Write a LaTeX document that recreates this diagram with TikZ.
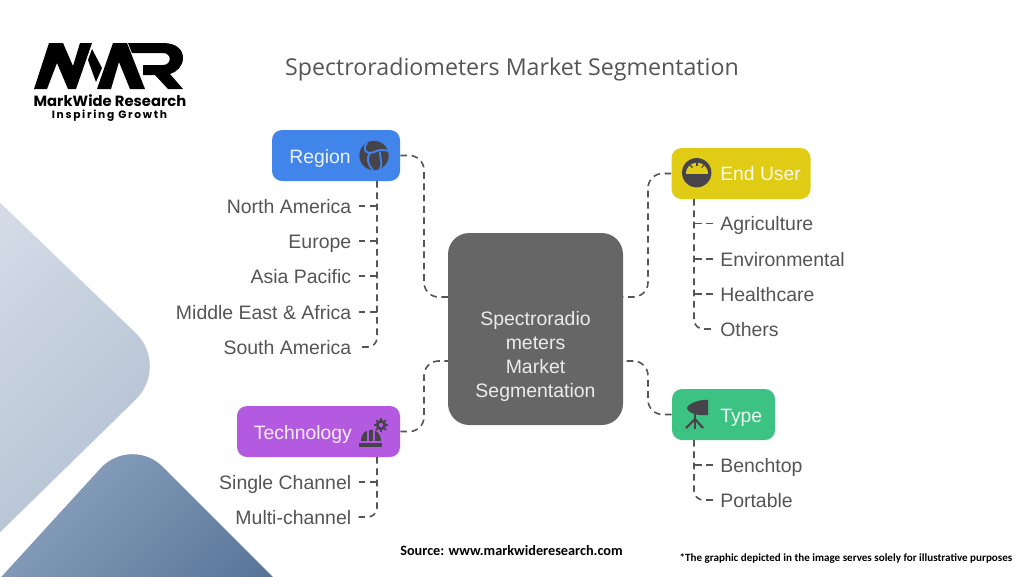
\documentclass[tikz,border=0pt]{standalone}
\usepackage{fontspec}
\setmainfont{Liberation Sans}
\newfontfamily\titlefont{Open Sans}
\newfontfamily\logofont{Poppins}
\newfontfamily\slogfont[LetterSpace=16]{Poppins}
\newfontfamily\notefont{Carlito}
\definecolor{inkgray}{HTML}{555555}
\definecolor{icongray}{HTML}{46444A}
\definecolor{regionblue}{HTML}{4285EA}
\definecolor{useryellow}{HTML}{E0CB15}
\definecolor{techpurple}{HTML}{B45AE0}
\definecolor{typegreen}{HTML}{3CC384}
\definecolor{paleone}{HTML}{D6DEE8}
\definecolor{paletwo}{HTML}{B0BED0}
\definecolor{deepone}{HTML}{92A8C4}
\definecolor{deeptwo}{HTML}{506E92}
\tikzset{
	catbox/.style={fill=#1,rounded corners=7.5pt,minimum height=38.25pt,inner sep=0pt},
	cattext/.style={text=white!90!#1,font=\fontsize{14.5}{18}\selectfont,inner sep=0pt,text height=10.5pt,text depth=0pt},
	leafl/.style={anchor=east,text=inkgray,font=\fontsize{14.6}{18}\selectfont,inner xsep=5.25pt,inner ysep=0pt,text height=10.5pt,text depth=0pt},
	leafr/.style={anchor=west,text=inkgray,font=\fontsize{14.6}{18}\selectfont,inner xsep=5.25pt,inner ysep=0pt,text height=10.5pt,text depth=0pt},
	dashline/.style={draw=inkgray,line width=1.2pt,dash pattern=on 5pt off 3.5pt},
}
\begin{document}
\begin{tikzpicture}[x=0.75pt,y=-0.75pt]
	\useasboundingbox (0,0) rectangle (1024,576);
	\fill[white] (0,0) rectangle (1024,576);

	\begin{scope}
		\clip (0,0) rectangle (1024,576);
		\shade[left color=paleone,right color=paletwo,shading angle=45,rounded corners=36pt] (-60,145)--(170,366)--(-60,591)--cycle; %light
		\shade[left color=deepone,right color=deeptwo,shading angle=45,rounded corners=34pt] (131,435)--(340,644)--(-60,644)--cycle; %dark
	\end{scope}

	%logo
	\fill[black] (34,89)--(49,43)--(63,43)--(73,66)--(80,43)--(92,43)--(76,89)--(68,89)--(57,63)--(47,89)--cycle;
	\fill[black] (92,49)--(102,68)--(96,82)--(88,60)--cycle;
	\fill[black] (97,89)--(113,43)--(127,43)--(145,89)--(130,89)--(119,62)--(111,89)--cycle;
	\fill[black] (128,43)--(163,43) .. controls (177,43) and (183,50) .. (183,58) .. controls (183,66) and (177,72) .. (170,74)--(183,89)--(168,89)--(155,75)--(143,75)--(143,65)--(163,65) .. controls (172,65) and (172,53) .. (163,53)--(132,53)--cycle;
	\node[inner sep=0pt,font=\logofont\bfseries\fontsize{11.1}{12}\selectfont] (brand) at (110,101) {MarkWide Research};
	\node[inner sep=0pt,font=\slogfont\bfseries\fontsize{8}{10}\selectfont] (slogan) at (109.5,115.5) {Inspiring Growth};

	\node[inner sep=0pt,text=inkgray,font=\titlefont\fontsize{17.4}{22}\selectfont] (title) at (512,69.5) {Spectroradiometers Market Segmentation};

	%center
	\node[fill=black!60,rounded corners=16pt,minimum width=131.25pt,minimum height=144pt,inner sep=0pt] (center) at (535.5,329) {};
	\node[inner sep=0pt,text=white!92!black,align=center,font=\fontsize{14.6}{17.8}\selectfont] (centertext) at (535.5,356.5) {Spectroradio\\meters\\Market\\Segmentation};
	\coordinate (centerlu) at (448,297);
	\coordinate (centerld) at (448,361);
	\coordinate (centerru) at (623,297);
	\coordinate (centerrd) at (623,361);
	\coordinate (busl) at (424,329);
	\coordinate (busr) at (648,329);

	%boxes
	\node[catbox=regionblue,minimum width=96pt] (region) at (336,155.5) {};
	\node[catbox=useryellow,minimum width=104.25pt] (enduser) at (741,173.5) {};
	\node[catbox=techpurple,minimum width=122.25pt] (technology) at (318.5,431.5) {};
	\node[catbox=typegreen,minimum width=77.25pt] (type) at (723.5,414.5) {};
	\node[cattext=regionblue,anchor=east] (regiontext) at (351,156) {Region};
	\node[cattext=useryellow,anchor=west] (endusertext) at (720,173.5) {End User};
	\node[cattext=techpurple,anchor=east] (technologytext) at (352,432) {Technology};
	\node[cattext=typegreen,anchor=west] (typetext) at (720,415) {Type};

	%leaves
	\node[leafl] (northamerica) at (358.5,206) {North America};
	\node[leafl] (europe) at (358.5,241) {Europe};
	\node[leafl] (asiapacific) at (358.5,276) {Asia Pacific};
	\node[leafl] (mea) at (358.5,312) {Middle East \& Africa};
	\node[leafl] (southamerica) at (358.5,347) {South America};
	\node[leafl] (single) at (358.5,482) {Single Channel};
	\node[leafl] (multi) at (358.5,517) {Multi-channel};
	\node[leafr] (agriculture) at (713,223.5) {Agriculture};
	\node[leafr] (environmental) at (713,259) {Environmental};
	\node[leafr] (healthcare) at (713,294) {Healthcare};
	\node[leafr] (others) at (713,329) {Others};
	\node[leafr] (benchtop) at (713,465) {Benchtop};
	\node[leafr] (portable) at (713,500) {Portable};

	%main links
	\draw[dashline,rounded corners=11pt] (region.east)--(busl |- region.east)--(busl |- centerlu)--(centerlu);
	\draw[dashline,rounded corners=11pt] (technology.east)--(busl |- technology.east)--(busl |- centerld)--(centerld);
	\draw[dashline,rounded corners=11pt] (enduser.west)--(busr |- enduser.west)--(busr |- centerru)--(centerru);
	\draw[dashline,rounded corners=11pt] (type.west)--(busr |- type.west)--(busr |- centerrd)--(centerrd);

	%trunks
	\coordinate (trunkregion) at (377,181);
	\coordinate (trunktech) at (377,457);
	\coordinate (trunkuser) at (694,199);
	\coordinate (trunktype) at (694,440);
	\draw[dashline,rounded corners=7pt] (trunkregion) |- (southamerica.east);
	\draw[dashline] (northamerica.east)--(northamerica.east -| trunkregion);
	\draw[dashline] (europe.east)--(europe.east -| trunkregion);
	\draw[dashline] (asiapacific.east)--(asiapacific.east -| trunkregion);
	\draw[dashline] (mea.east)--(mea.east -| trunkregion);
	\draw[dashline,rounded corners=7pt] (trunktech) |- (multi.east);
	\draw[dashline] (single.east)--(single.east -| trunktech);
	\draw[dashline,rounded corners=7pt] (trunkuser) |- (others.west);
	\draw[dashline] (agriculture.west)--(agriculture.west -| trunkuser);
	\draw[dashline] (environmental.west)--(environmental.west -| trunkuser);
	\draw[dashline] (healthcare.west)--(healthcare.west -| trunkuser);
	\draw[dashline,rounded corners=7pt] (trunktype) |- (portable.west);
	\draw[dashline] (benchtop.west)--(benchtop.west -| trunktype);

	%globe
	\fill[icongray] (374,155.5) circle[radius=11pt];
	\draw[regionblue,line width=1.4pt] (367,143) .. controls (362,149) and (366,153) .. (370,153) .. controls (375,153) and (377,148) .. (389,151);
	\draw[regionblue,line width=1.4pt] (370,153) .. controls (366,158) and (368,165) .. (373,170);
	\draw[regionblue,line width=1.4pt] (380,152) .. controls (380,160) and (383,162) .. (380,169);

	%gauge
	\fill[icongray] (696.7,172.7) circle[radius=11pt];
	\fill[useryellow] (686,173.5) .. controls (686,159) and (708,159) .. (708,173.5)--cycle;
	\draw[icongray,line width=0.8pt] (697,162)--(697,166);
	\draw[icongray,line width=0.8pt] (690,165)--(692.5,167.5);
	\draw[icongray,line width=0.8pt] (704,165)--(701.5,167.5);

	%helmet
	\fill[icongray] (359,443)--(382,443)--(382,447)--(359,447)--cycle;
	\fill[icongray] (361,441) .. controls (361,426) and (381,426) .. (381,441)--cycle;
	\draw[techpurple,line width=0.8pt] (368,441)--(368,430);
	\draw[techpurple,line width=0.8pt] (374,441)--(374,430);
	\draw[icongray,line width=1.3pt] (374,425)--(388,425);
	\draw[icongray,line width=1.3pt] (381,418)--(381,432);
	\draw[icongray,line width=1.3pt] (376,420)--(386,430);
	\draw[icongray,line width=1.3pt] (386,420)--(376,430);
	\fill[icongray] (381,425) circle[radius=4pt];
	\fill[techpurple] (381,425) circle[radius=1.6pt];

	%camera
	\fill[icongray] (687,408) .. controls (688,403) and (702,399) .. (708,400)--(708,415) .. controls (700,416) and (688,414) .. (687,408)--cycle;
	\draw[icongray,line width=1.6pt] (695,414)--(695,429);
	\draw[icongray,line width=1.6pt] (686,428)--(695,419)--(703,428);

	%footer
	\node[inner sep=0pt,font=\notefont\bfseries\fontsize{10.7}{12}\selectfont] (source) at (511.5,551) {Source: www.markwideresearch.com};
	\node[inner sep=0pt,font=\notefont\bfseries\fontsize{8.3}{11}\selectfont] (note) at (846,558) {*The graphic depicted in the image serves solely for illustrative purposes};
\end{tikzpicture}
\end{document}
